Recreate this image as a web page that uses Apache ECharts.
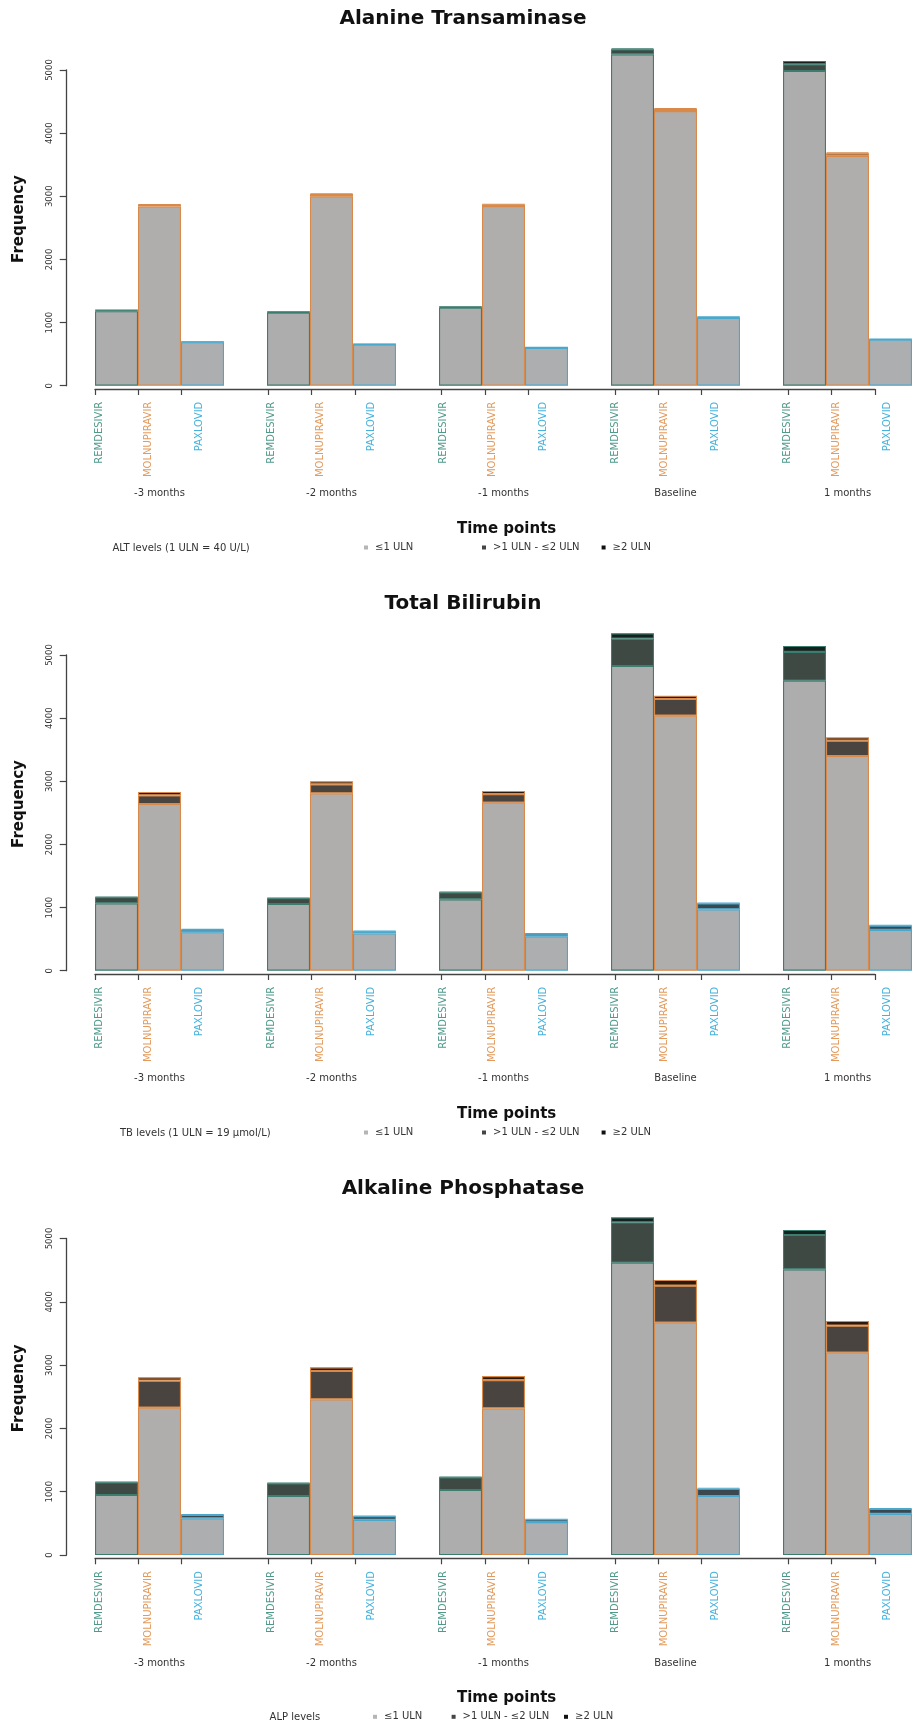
<!DOCTYPE html>
<html>
<head>
<meta charset="utf-8">
<script src="https://cdn.jsdelivr.net/npm/echarts@6/dist/echarts.min.js"></script>
<style>
html,body{margin:0;padding:0;background:#fff;}
#chart{width:912px;height:1723px;}
</style>
</head>
<body>
<div id="chart"></div>
<script>
// ---------------- data ----------------
const timePoints = ['-3 months', '-2 months', '-1 months', 'Baseline', '1 months'];
const drugs = ['REMDESIVIR', 'MOLNUPIRAVIR', 'PAXLOVID'];
const levelNames = ['\u22641 ULN', '>1 ULN - \u22642 ULN', '\u22652 ULN'];
const yTicks = [0, 1000, 2000, 3000, 4000, 5000];
const panelTitles = ['Alanine Transaminase', 'Total Bilirubin', 'Alkaline Phosphatase'];
const legendTitles = ['ALT levels (1 ULN = 40 U/L)', 'TB levels (1 ULN = 19 \u03bcmol/L)', 'ALP levels'];
const xAxisTitle = 'Time points';
const yAxisTitle = 'Frequency';

// values ordered by time point, then drug (REMDESIVIR, MOLNUPIRAVIR, PAXLOVID)
const altLow  = [1180, 2840, 690, 1155, 3000, 650, 1235, 2845, 600, 5248, 4350, 1075, 4984, 3640, 728];
const altMid  = [14, 25, 6, 12, 35, 8, 12, 25, 6, 80, 33, 12, 106, 40, 9];
const altHigh = [5, 8, 2, 5, 12, 2, 4, 8, 2, 15, 10, 6, 53, 16, 3];

const tbLow  = [1067, 2640, 610, 1056, 2810, 591, 1131, 2661, 545, 4826, 4039, 972, 4593, 3400, 645];
const tbMid  = [97, 137, 40, 92, 142, 34, 110, 137, 40, 433, 264, 95, 455, 243, 70];
const tbHigh = [8, 53, 10, 8, 48, 8, 10, 48, 7, 85, 53, 10, 95, 53, 9];

const alpLow  = [948, 2327, 580, 932, 2460, 555, 1027, 2317, 520, 4618, 3670, 932, 4513, 3196, 650];
const alpMid  = [200, 427, 55, 200, 447, 58, 200, 447, 42, 637, 584, 115, 542, 427, 78];
const alpHigh = [10, 53, 8, 10, 58, 8, 10, 63, 7, 79, 90, 16, 79, 74, 9];

const panels = [
  [altLow, altMid, altHigh],
  [tbLow, tbMid, tbHigh],
  [alpLow, alpMid, alpHigh]
];

// ---------------- styles / layout ----------------
const FONT = '"DejaVu Sans", "Liberation Sans", sans-serif';
const drugBorder = ['#3b7d6f', '#d98a4a', '#4aa8cc'];
const drugLabel  = ['#4f9a8b', '#e39a5c', '#45b2dd'];
const levelFill = [
  ['#adadad', '#b0aeac', '#acaeb0'],
  ['#3e4944', '#4a4440', '#3c4850'],
  ['#16201c', '#2a1a10', '#142028']
];
const legendFill = ['#b5b5b5', '#444444', '#111111'];
const AXIS_COLOR = '#444';
const TEXT_COLOR = '#333';

const panelOffset = [0, 585, 1169.3];
const gridTop = [70, 655, 1238.5];
const gridBottom = [385.7, 970.7, 1555];
const SLOT = 43.333;
const LEFT = 95;
const legendTitleX = [112.5, 120, 269.6];
const legendMarkerX = [[366, 484, 603.6], [366, 484, 603.6], [375, 453.6, 566]];

// slots: 3 drugs per time point + a gap slot between time points
const slotKeys = [];
timePoints.forEach((t, g) => {
  for (let d = 0; d < 4; d++) {
    if (d === 3 && g === timePoints.length - 1) break;
    slotKeys.push(g + '|' + d);
  }
});
const nSlots = slotKeys.length; // 19

const grids = [], xAxes = [], yAxes = [], series = [], legends = [], graphics = [];

panels.forEach((levels, p) => {
  const off = panelOffset[p];
  grids.push({
    left: LEFT, top: gridTop[p], width: SLOT * nSlots, height: gridBottom[p] - gridTop[p],
    containLabel: false
  });
  grids.push({
    left: LEFT, top: gridBottom[p] + 3.3 - 40, width: SLOT * (nSlots - 1), height: 40,
    containLabel: false
  });
  const gA = 2 * p, gB = 2 * p + 1;

  xAxes.push({
    gridIndex: gA, type: 'category', data: slotKeys, boundaryGap: true, position: 'bottom',
    axisLine: { show: false }, axisTick: { show: false }, splitLine: { show: false },
    axisLabel: {
      interval: 0, rotate: 90, margin: 16, fontFamily: FONT, fontSize: 10,
      formatter: function (k) {
        const d = +k.split('|')[1];
        return d === 3 ? '' : '{d' + d + '|' + drugs[d] + '}';
      },
      rich: {
        d0: { color: drugLabel[0], fontFamily: FONT, fontSize: 10, padding: [0, 0, 35, 0] },
        d1: { color: drugLabel[1], fontFamily: FONT, fontSize: 10, padding: [0, 0, 22, 0] },
        d2: { color: drugLabel[2], fontFamily: FONT, fontSize: 10, padding: [0, 0, 6, 0] }
      }
    }
  });
  xAxes.push({
    gridIndex: gA, type: 'category', data: slotKeys, boundaryGap: true, position: 'bottom',
    axisLine: { show: false }, axisTick: { show: false }, splitLine: { show: false },
    axisLabel: {
      interval: 0, margin: 103, fontFamily: FONT, fontSize: 10, color: TEXT_COLOR,
      formatter: function (k) {
        const parts = k.split('|');
        return +parts[1] === 1 ? timePoints[+parts[0]] : '';
      }
    }
  });
  xAxes.push({
    gridIndex: gB, type: 'category', data: slotKeys, boundaryGap: false, position: 'bottom',
    axisLine: { show: true, onZero: false, lineStyle: { color: AXIS_COLOR, width: 1.3 } },
    axisTick: {
      show: true, length: 6, lineStyle: { color: AXIS_COLOR, width: 1.2 },
      interval: function (i, k) { return +String(k).split('|')[1] !== 3; }
    },
    axisLabel: { show: false }, splitLine: { show: false }
  });

  yAxes.push({
    gridIndex: gA, type: 'value', min: yTicks[0], max: yTicks[yTicks.length - 1],
    interval: yTicks[1] - yTicks[0], offset: LEFT - 66.7,
    axisLine: { show: true, lineStyle: { color: AXIS_COLOR, width: 1.3 } },
    axisTick: { show: true, length: 7, lineStyle: { color: AXIS_COLOR, width: 1.2 } },
    axisLabel: {
      rotate: 90, margin: 12, fontFamily: FONT, fontSize: 8.5, color: TEXT_COLOR,
      formatter: function (v) { return String(v); }
    },
    splitLine: { show: false }
  });
  yAxes.push({ gridIndex: gB, type: 'value', show: false });

  levels.forEach((arr, l) => {
    series.push({
      type: 'bar', name: levelNames[l], stack: 'panel' + p,
      xAxisIndex: 3 * p, yAxisIndex: 2 * p,
      barCategoryGap: '0%', clip: false, silent: true,
      data: slotKeys.map(function (k) {
        const parts = k.split('|');
        const g = +parts[0], d = +parts[1];
        if (d === 3) return '-';
        return {
          value: arr[g * 3 + d],
          itemStyle: { color: levelFill[l][d], borderColor: drugBorder[d], borderWidth: 1.1 }
        };
      })
    });
    legends.push({
      left: legendMarkerX[p][l] - 2, top: off + 548.5 - 6,
      orient: 'horizontal', padding: 0, itemGap: 0,
      itemWidth: 4, itemHeight: 4, icon: 'rect', selectedMode: false,
      data: [{ name: levelNames[l], itemStyle: { color: legendFill[l], borderWidth: 0 } }],
      textStyle: { fontFamily: FONT, fontSize: 10, color: TEXT_COLOR, padding: [0, 0, 0, 2] }
    });
  });

  graphics.push({
    type: 'text', x: 463, y: off + 19, silent: true,
    style: { text: panelTitles[p], font: 'bold 20px ' + FONT, fill: '#111',
      align: 'center', verticalAlign: 'middle', textAlign: 'center', textVerticalAlign: 'middle' }
  });
  graphics.push({
    type: 'text', x: 19, y: off + 219, rotation: Math.PI / 2, silent: true,
    style: { text: yAxisTitle, font: 'bold 15px ' + FONT, fill: '#111',
      align: 'center', verticalAlign: 'middle', textAlign: 'center', textVerticalAlign: 'middle' }
  });
  graphics.push({
    type: 'text', x: 506.6, y: off + 529, silent: true,
    style: { text: xAxisTitle, font: 'bold 15px ' + FONT, fill: '#111',
      align: 'center', verticalAlign: 'middle', textAlign: 'center', textVerticalAlign: 'middle' }
  });
  graphics.push({
    type: 'text', x: legendTitleX[p], y: off + 548.5, silent: true,
    style: { text: legendTitles[p], font: '10px ' + FONT, fill: TEXT_COLOR,
      align: 'left', verticalAlign: 'middle', textAlign: 'left', textVerticalAlign: 'middle' }
  });
});

const chart = echarts.init(document.getElementById('chart'), null, { renderer: 'canvas' });
chart.setOption({
  animation: false,
  backgroundColor: '#ffffff',
  textStyle: { fontFamily: FONT },
  grid: grids,
  xAxis: xAxes,
  yAxis: yAxes,
  legend: legends,
  series: series,
  graphic: { elements: graphics }
});
</script>
</body>
</html>
